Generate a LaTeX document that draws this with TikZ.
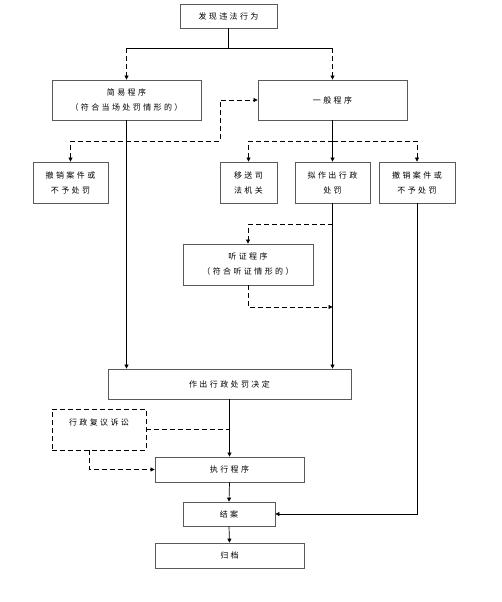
\documentclass[tikz,border=0pt]{standalone}
\usepackage{fontspec}
\newfontfamily\cjk[LetterSpace=30]{Noto Sans CJK SC}
\usetikzlibrary{arrows.meta}

\begin{document}
\begin{tikzpicture}[x=1pt, y=1pt, yscale=-1,
  box/.style={draw=black!65, line width=0.8pt, align=center, inner sep=0pt,
    font=\cjk\fontsize{8}{15}\selectfont},
  dashbox/.style={box, draw=black, dash pattern=on 5pt off 3pt},
  arr/.style={line width=0.7pt, -{Triangle[length=4pt,width=4pt]}},
  dasharr/.style={arr, dash pattern=on 5pt off 3pt},
  dashline/.style={line width=0.7pt, dash pattern=on 5pt off 3pt}]
\useasboundingbox (0,0) rectangle (502,602);
% boxes
\node[box, minimum width=97, minimum height=24] (find) at (228.5,16) {发现违法行为};
\node[box, minimum width=149, minimum height=40] (simple) at (126.5,100) {简易程序\\（符合当场处罚情形的）};
\node[box, minimum width=149, minimum height=40] (general) at (332.5,100) {一般程序};
\node[box, minimum width=75, minimum height=41] (cancelL) at (70.5,182.5) {撤销案件或\\不予处罚};
\node[box, minimum width=57, minimum height=41] (transfer) at (248.5,182.5) {移送司\\法机关};
\node[box, minimum width=75, minimum height=41] (propose) at (332.5,182.5) {拟作出行政\\处罚};
\node[box, minimum width=76, minimum height=41] (cancelR) at (417,182.5) {撤销案件或\\不予处罚};
\node[box, minimum width=130, minimum height=41] (hearing) at (248,264.5) {听证程序\\（符合听证情形的）};
\node[box, minimum width=243, minimum height=30] (decide) at (229.5,384) {作出行政处罚决定};
\node[dashbox, minimum width=94, minimum height=41] (review) at (99,429.5) {行政复议诉讼\\\mbox{}};
\node[box, minimum width=149, minimum height=25] (execute) at (229.5,469.5) {执行程序};
\node[box, minimum width=92, minimum height=24] (close) at (229,514) {结案};
\node[box, minimum width=149, minimum height=25] (archive) at (229.5,555.5) {归档};
% junctions
\coordinate (split1) at (228.5,48);
\coordinate (split2) at (332.5,141);
\coordinate (turn1) at (220,141);
\coordinate (hear1) at (332.5,224);
\coordinate (hear2) at (332.5,307);
% connectors
\draw[line width=0.7pt] (find.south) -- (split1);
\draw[line width=0.7pt] (simple.north |- split1) -- (general.north |- split1);
\draw[dasharr] (simple.north |- split1) -- (simple.north);
\draw[dasharr] (general.north |- split1) -- (general.north);
\draw[dasharr, {Triangle[length=4pt,width=4pt]}-{Triangle[length=4pt,width=4pt]}] (cancelL.north) |- (turn1) |- (general.west);
\draw[arr] (simple.south) -- (simple.south |- decide.north);
\draw[arr] (general.south) -- (propose.north);
\draw[dasharr] (split2) -| (transfer.north);
\draw[dasharr] (split2) -| (cancelR.north);
\draw[arr] (propose.south) -- (propose.south |- decide.north);
\draw[dasharr] (hear1) -| (hearing.north);
\draw[dasharr] (hearing.south) |- (hear2);
\draw[arr] (decide.south) -- (execute.north);
\draw[dashline] (review.east) -- (review.east -| execute.north);
\draw[dasharr] ([xshift=-10pt]review.south) |- (execute.west);
\draw[arr] (execute.south) -- (close.north);
\draw[arr] (close.south) -- (archive.north);
\draw[arr] (cancelR.south) |- (close.east);
\end{tikzpicture}
\end{document}
